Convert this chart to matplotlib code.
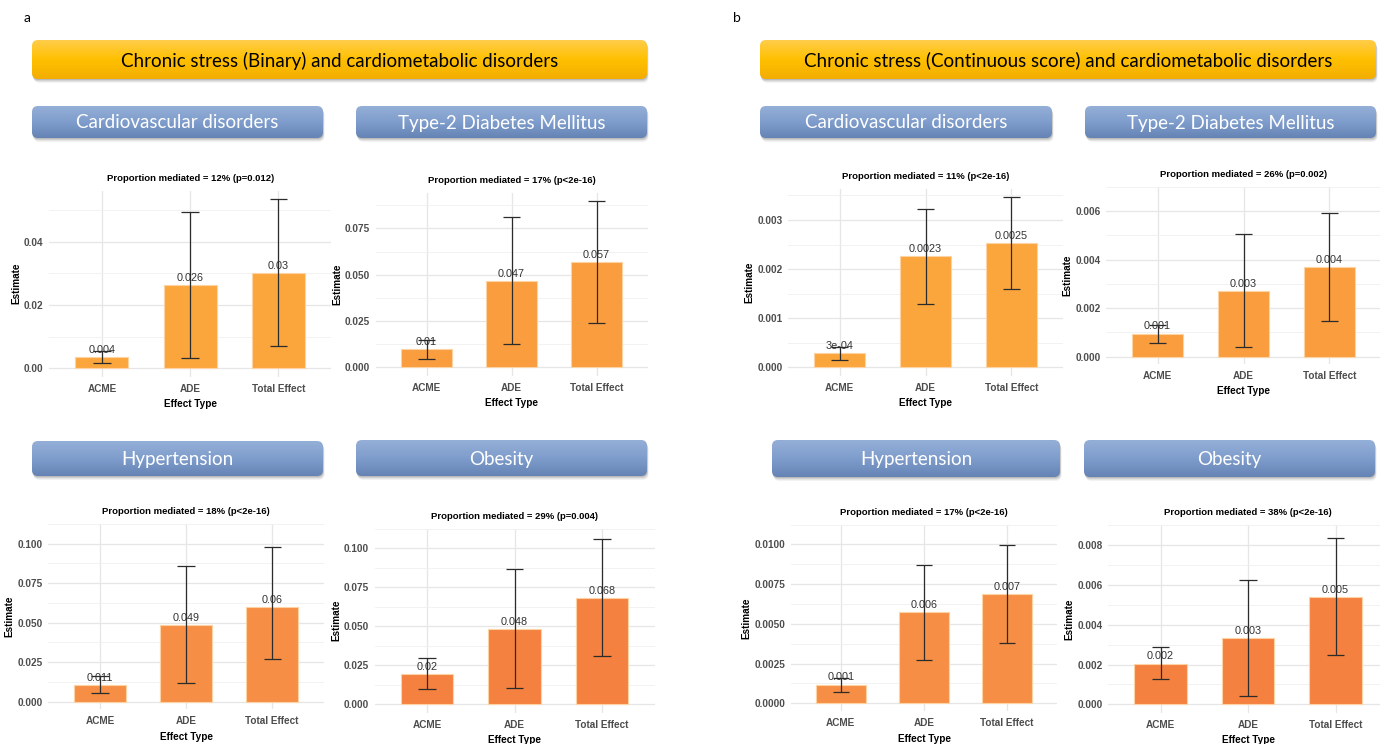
import matplotlib
matplotlib.use("Agg")
import matplotlib.pyplot as plt
import numpy as np
from matplotlib.patches import FancyBboxPatch
from matplotlib.colors import LinearSegmentedColormap

W, H = 1380, 744

effects = ["ACME", "ADE", "Total Effect"]

# Chronic stress as a binary exposure: estimate, lower CI, upper CI
cvd_bin_est = [0.0036, 0.0263, 0.0300]
cvd_bin_lo = [0.0016, 0.0034, 0.0071]
cvd_bin_hi = [0.0056, 0.0495, 0.0534]

t2d_bin_est = [0.0099, 0.0468, 0.0567]
t2d_bin_lo = [0.0045, 0.0128, 0.0237]
t2d_bin_hi = [0.0145, 0.0813, 0.0897]

htn_bin_est = [0.0108, 0.0486, 0.0597]
htn_bin_lo = [0.0054, 0.0120, 0.0272]
htn_bin_hi = [0.0165, 0.0857, 0.0977]

obe_bin_est = [0.0197, 0.0481, 0.0679]
obe_bin_lo = [0.0099, 0.0103, 0.0307]
obe_bin_hi = [0.0298, 0.0863, 0.1055]

# Chronic stress as a continuous score
cvd_cont_est = [0.00029, 0.00226, 0.00253]
cvd_cont_lo = [0.00014, 0.00128, 0.00160]
cvd_cont_hi = [0.00042, 0.00322, 0.00346]

t2d_cont_est = [0.00095, 0.00270, 0.00368]
t2d_cont_lo = [0.00057, 0.00039, 0.00147]
t2d_cont_hi = [0.00130, 0.00504, 0.00594]

htn_cont_est = [0.00118, 0.00573, 0.00690]
htn_cont_lo = [0.00069, 0.00275, 0.00382]
htn_cont_hi = [0.00160, 0.00871, 0.00998]

obe_cont_est = [0.00205, 0.00332, 0.00539]
obe_cont_lo = [0.00129, 0.00044, 0.00246]
obe_cont_hi = [0.00287, 0.00621, 0.00836]

titles_bin = ["Proportion mediated = 12% (p=0.012)", "Proportion mediated = 17% (p<2e-16)",
              "Proportion mediated = 18% (p<2e-16)", "Proportion mediated = 29% (p=0.004)"]
titles_cont = ["Proportion mediated = 11% (p<2e-16)", "Proportion mediated = 26% (p=0.002)",
               "Proportion mediated = 17% (p<2e-16)", "Proportion mediated = 38% (p<2e-16)"]
outcomes = ["Cardiovascular disorders", "Type-2 Diabetes Mellitus", "Hypertension", "Obesity"]

yticks_bin = [[0, 0.02, 0.04], [0, 0.025, 0.05, 0.075],
              [0, 0.025, 0.05, 0.075, 0.1], [0, 0.025, 0.05, 0.075, 0.1]]
yticks_cont = [[0, 0.001, 0.002, 0.003], [0, 0.002, 0.004, 0.006],
               [0, 0.0025, 0.005, 0.0075, 0.01], [0, 0.002, 0.004, 0.006, 0.008]]
digits_bin = [3, 3, 3, 3]
digits_cont = [4, 3, 3, 3]

bar_colors = ["#FBA63D", "#F99D3E", "#F68F45", "#F4813F"]

PLOT_FONT = ["Liberation Sans Narrow", "Liberation Sans", "DejaVu Sans"]
SLIDE_FONT = ["Lato", "DejaVu Sans"]


def px_rect(l, t, r, b):
    return [l / W, 1 - b / H, (r - l) / W, (b - t) / H]


def r_format(v):
    # mimic R's choice between fixed and scientific notation
    fixed = f"{v:.10f}".rstrip("0").rstrip(".")
    mant, exp = f"{v:e}".split("e")
    mant = mant.rstrip("0").rstrip(".")
    sci = f"{mant}e{exp[0]}{int(exp[1:]):02d}"
    return sci if len(sci) < len(fixed) else fixed


def tick_format(ticks):
    dec = 0
    for t in ticks:
        s = f"{t:.8f}".rstrip("0")
        dec = max(dec, len(s.split(".")[1]))
    return [f"{t:.{dec}f}" for t in ticks]


def effect_panel(ax, est, lo, hi, digits, ticks, title, color):
    x = np.arange(1, len(effects) + 1)
    ymin = min(0, min(lo))
    ymax = max(hi)
    pad = 0.05 * (ymax - ymin)
    ax.set_xlim(0.4, len(effects) + 0.6)
    ax.set_ylim(ymin - pad, ymax + pad)

    ax.bar(x, est, width=0.6, color=color, edgecolor="#FDD3A3", linewidth=0.8, zorder=2)
    ax.vlines(x, lo, hi, color="#2b2b2b", linewidth=0.9, zorder=4)
    ax.hlines(lo, x - 0.1, x + 0.1, color="#2b2b2b", linewidth=0.9, zorder=4)
    ax.hlines(hi, x - 0.1, x + 0.1, color="#2b2b2b", linewidth=0.9, zorder=4)
    for xi, v in zip(x, est):
        ax.annotate(r_format(round(v, digits)), (xi, v), xytext=(0, 1.5), textcoords="offset points",
                    ha="center", va="bottom", fontsize=7.8, color="#333333", family=PLOT_FONT, zorder=3)

    ax.set_yticks(ticks)
    ax.set_yticklabels(tick_format(ticks))
    minor = [(a + b) / 2 for a, b in zip(ticks[:-1], ticks[1:])]
    minor.append(ticks[-1] + (ticks[1] - ticks[0]) / 2)
    ax.set_yticks(minor, minor=True)
    ax.set_xticks(x)
    ax.set_xticklabels(effects)
    ax.grid(which="major", color="#E6E6E6", linewidth=0.9, zorder=0)
    ax.grid(which="minor", axis="y", color="#F0F0F0", linewidth=0.6, zorder=0)
    ax.set_axisbelow(True)
    ax.tick_params(which="both", length=0)
    ax.tick_params(axis="y", pad=4)
    ax.tick_params(axis="x", pad=5)
    for lab in ax.get_xticklabels() + ax.get_yticklabels():
        lab.set_family(PLOT_FONT)
        lab.set_fontsize(7.2)
        lab.set_fontweight("bold")
        lab.set_color("#4D4D4D")
    for s in ax.spines.values():
        s.set_visible(False)
    ax.set_facecolor("none")
    ax.set_title(title, fontsize=6.8, fontweight="bold", family=PLOT_FONT, pad=7)
    ax.set_ylabel("Estimate", fontsize=7.2, fontweight="bold", family=PLOT_FONT, labelpad=2)
    ax.set_xlabel("Effect Type", fontsize=7.2, fontweight="bold", family=PLOT_FONT, labelpad=4)


def banner(ax, l, t, r, b, colors, text, tcolor, size):
    w, h = r - l, b - t
    style = "round,pad=0,rounding_size=6"
    for k, a in [(4, 0.06), (3, 0.08), (2, 0.12), (1, 0.15)]:
        ax.add_patch(FancyBboxPatch((l + k * 0.4, t + k), w, h, boxstyle=style,
                                    fc="#404040", ec="none", alpha=a, zorder=1))
    box = FancyBboxPatch((l, t), w, h, boxstyle=style, fc="none", ec="none", zorder=2)
    ax.add_patch(box)
    grad = np.linspace(0, 1, 64)[:, None]
    cmap = LinearSegmentedColormap.from_list("fill", colors)
    im = ax.imshow(grad, extent=(l, r, b, t), cmap=cmap, aspect="auto", zorder=2, origin="upper")
    im.set_clip_path(box)
    ax.text((l + r) / 2, (t + b) / 2 + 1, text, ha="center", va="center", fontsize=size,
            color=tcolor, family=SLIDE_FONT, zorder=3)


fig = plt.figure(figsize=(W / 100, H / 100), dpi=100)
fig.patch.set_facecolor("white")

deco = fig.add_axes([0, 0, 1, 1], zorder=0)
deco.set_axis_off()

orange = ["#FFCD4A", "#FFC000", "#F3AD00"]
blue = ["#94AFD7", "#7F9DCC", "#6583B4"]

banner(deco, 32, 40, 647, 79, orange, "Chronic stress (Binary) and cardiometabolic disorders", "black", 13.5)
banner(deco, 760, 40, 1376, 79, orange, "Chronic stress (Continuous score) and cardiometabolic disorders", "black", 13.5)

blue_boxes_a = [(32, 106, 323, 138), (356, 106, 647, 138), (32, 441, 323, 476), (356, 440, 647, 476)]
blue_boxes_b = [(760, 106, 1052, 138), (1085, 106, 1376, 138), (772, 440, 1060, 477), (1084, 440, 1375, 477)]
for (l, t, r, b), name in zip(blue_boxes_a, outcomes):
    banner(deco, l, t, r, b, blue, name, "white", 13.5)
for (l, t, r, b), name in zip(blue_boxes_b, outcomes):
    banner(deco, l, t, r, b, blue, name, "white", 13.5)

deco.set_xlim(0, W)
deco.set_ylim(H, 0)

deco.text(27, 18, "a", ha="center", va="center", fontsize=10, family=SLIDE_FONT)
deco.text(737, 18, "b", ha="center", va="center", fontsize=10, family=SLIDE_FONT)

rects_bin = [(49, 190.7, 331.4, 376.8), (375.5, 192.8, 647.5, 375.6),
             (48.4, 524, 323.8, 709.4), (374.5, 528.5, 654.5, 712.7)]
rects_cont = [(788, 188.9, 1063, 375.8), (1106, 187, 1381, 363.7),
              (791, 524.6, 1057, 711.2), (1108, 524.8, 1388, 712.8)]

bin_data = [(cvd_bin_est, cvd_bin_lo, cvd_bin_hi), (t2d_bin_est, t2d_bin_lo, t2d_bin_hi),
            (htn_bin_est, htn_bin_lo, htn_bin_hi), (obe_bin_est, obe_bin_lo, obe_bin_hi)]
cont_data = [(cvd_cont_est, cvd_cont_lo, cvd_cont_hi), (t2d_cont_est, t2d_cont_lo, t2d_cont_hi),
             (htn_cont_est, htn_cont_lo, htn_cont_hi), (obe_cont_est, obe_cont_lo, obe_cont_hi)]

for i in range(4):
    ax = fig.add_axes(px_rect(*rects_bin[i]), zorder=1)
    est, lo, hi = bin_data[i]
    effect_panel(ax, est, lo, hi, digits_bin[i], yticks_bin[i], titles_bin[i], bar_colors[i])

    ax = fig.add_axes(px_rect(*rects_cont[i]), zorder=1)
    est, lo, hi = cont_data[i]
    effect_panel(ax, est, lo, hi, digits_cont[i], yticks_cont[i], titles_cont[i], bar_colors[i])

fig.savefig("out.png", dpi=100)
